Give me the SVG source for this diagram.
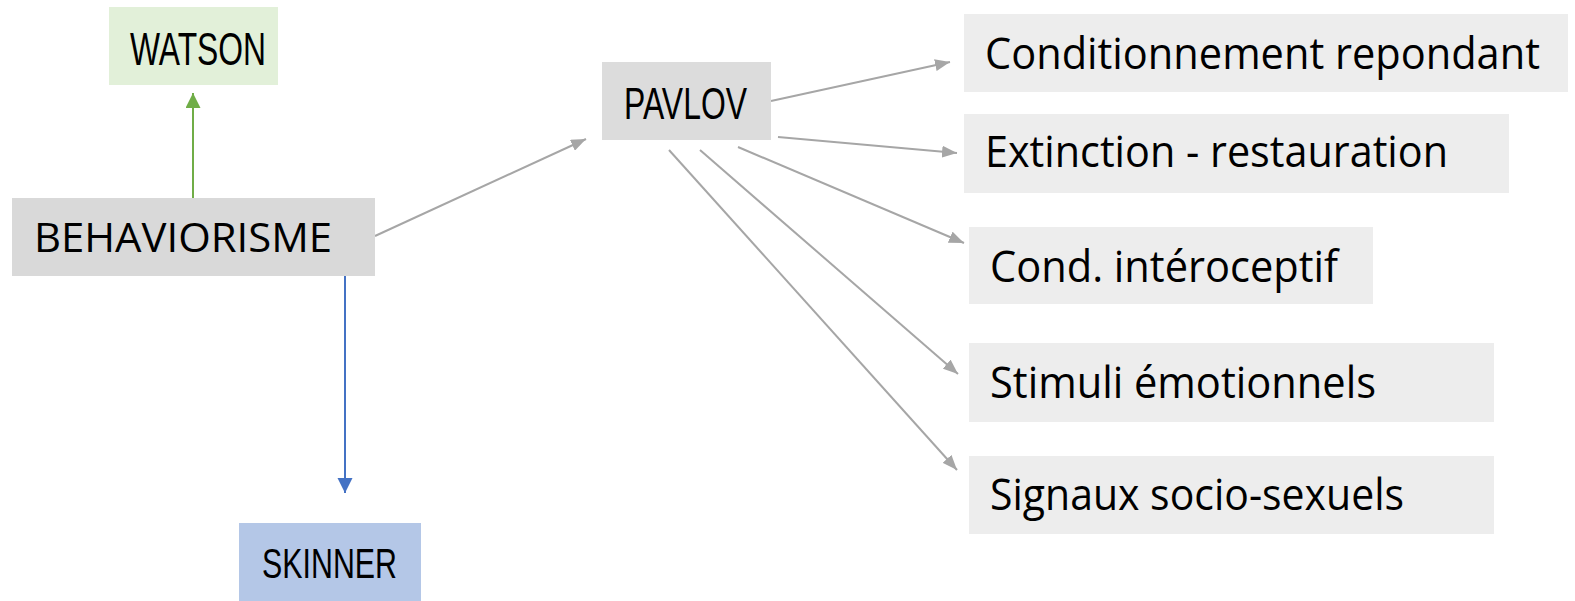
<svg xmlns="http://www.w3.org/2000/svg" width="1575" height="601" viewBox="0 0 1575 601">
<defs>
<style>
.lbl{font-family:"Open Sans","Liberation Sans",sans-serif;fill:#000;}
.cond{font-family:"Liberation Sans",Arial,sans-serif;fill:#000;}
.gray{stroke:#a6a6a6;stroke-width:2;fill:none;marker-end:url(#ag);}
</style>
<marker id="ag" markerUnits="userSpaceOnUse" markerWidth="16" markerHeight="12" refX="15" refY="6" orient="auto">
<path d="M0,0 L15,6 L0,12 z" fill="#a6a6a6"/>
</marker>
<marker id="agreen" markerUnits="userSpaceOnUse" markerWidth="16" markerHeight="16" refX="15" refY="7.5" orient="auto">
<path d="M0,0 L15,7.5 L0,15 z" fill="#70ad47"/>
</marker>
<marker id="ablue" markerUnits="userSpaceOnUse" markerWidth="16" markerHeight="16" refX="15" refY="7.5" orient="auto">
<path d="M0,0 L15,7.5 L0,15 z" fill="#4472c4"/>
</marker>
</defs>
<rect width="1575" height="601" fill="#ffffff"/>
<g id="connectors">
<line x1="193" y1="198" x2="193" y2="93" stroke="#70ad47" stroke-width="2" marker-end="url(#agreen)"/>
<line x1="345" y1="276" x2="345" y2="493" stroke="#4472c4" stroke-width="2" marker-end="url(#ablue)"/>
<line class="gray" x1="375" y1="236" x2="586" y2="139"/>
<line class="gray" x1="771" y1="101" x2="950" y2="62"/>
<line class="gray" x1="778" y1="137" x2="957" y2="153"/>
<line class="gray" x1="738" y1="147" x2="964" y2="243"/>
<line class="gray" x1="700" y1="150" x2="958" y2="374"/>
<line class="gray" x1="669" y1="150" x2="957" y2="470"/>
</g>
<g id="watson">
<rect x="109" y="7" width="169" height="78" fill="#e2f0d9"/>
<text class="cond" x="130" y="65" font-size="46" textLength="136" lengthAdjust="spacingAndGlyphs">WATSON</text>
</g>
<g id="behaviorisme">
<rect x="12" y="198" width="363" height="78" fill="#d9d9d9"/>
<text class="lbl" x="34" y="252" font-size="40" textLength="298" lengthAdjust="spacingAndGlyphs">BEHAVIORISME</text>
</g>
<g id="skinner">
<rect x="239" y="523" width="182" height="78" fill="#b4c7e7"/>
<text class="cond" x="262" y="578" font-size="42" textLength="135" lengthAdjust="spacingAndGlyphs">SKINNER</text>
</g>
<g id="pavlov">
<rect x="602" y="62" width="169" height="78" fill="#dcdcdc"/>
<text class="cond" x="624" y="119" font-size="45" textLength="123" lengthAdjust="spacingAndGlyphs">PAVLOV</text>
</g>
<g id="conditionnement">
<rect x="964" y="14" width="604" height="78" fill="#ededed"/>
<text class="lbl" x="985" y="69" font-size="43" textLength="555" lengthAdjust="spacingAndGlyphs">Conditionnement repondant</text>
</g>
<g id="extinction">
<rect x="964" y="114" width="545" height="79" fill="#ededed"/>
<text class="lbl" x="985" y="167" font-size="43" textLength="463" lengthAdjust="spacingAndGlyphs">Extinction - restauration</text>
</g>
<g id="interoceptif">
<rect x="969" y="227" width="404" height="77" fill="#ededed"/>
<text class="lbl" x="990" y="282" font-size="43" textLength="348" lengthAdjust="spacingAndGlyphs">Cond. intéroceptif</text>
</g>
<g id="stimuli">
<rect x="969" y="343" width="525" height="79" fill="#ededed"/>
<text class="lbl" x="990" y="398" font-size="43" textLength="386" lengthAdjust="spacingAndGlyphs">Stimuli émotionnels</text>
</g>
<g id="signaux">
<rect x="969" y="456" width="525" height="78" fill="#ededed"/>
<text class="lbl" x="990" y="510" font-size="43" textLength="414" lengthAdjust="spacingAndGlyphs">Signaux socio-sexuels</text>
</g>
</svg>
